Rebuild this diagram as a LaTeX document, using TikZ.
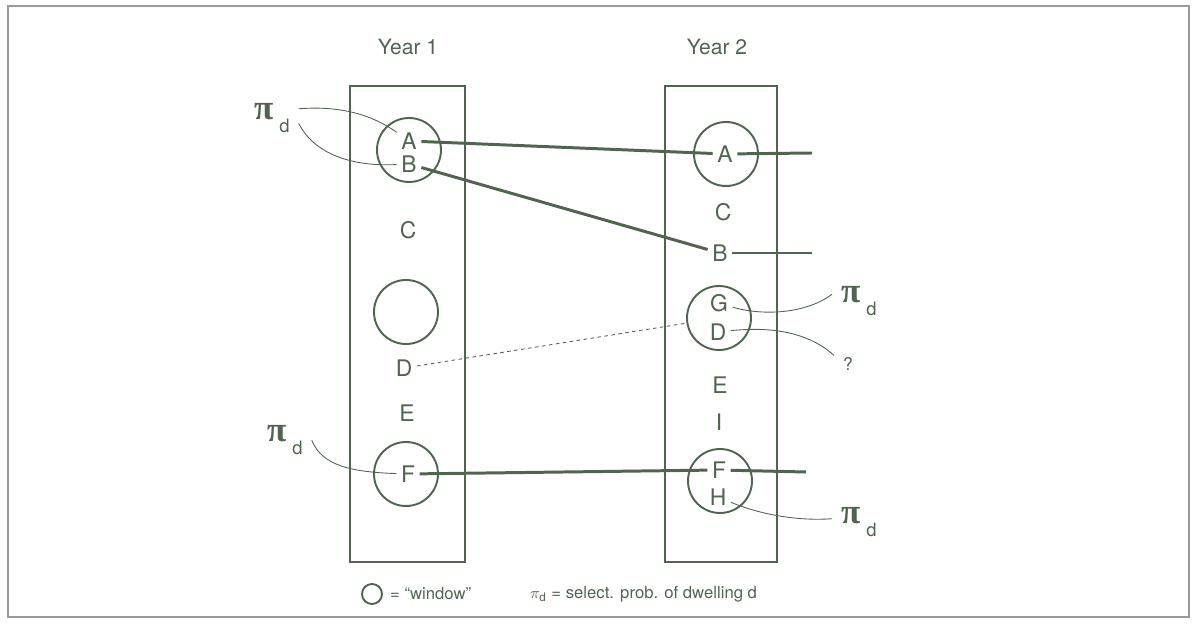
\documentclass[tikz,border=0pt]{standalone}
\usepackage{fontspec}
\setmainfont{TeX Gyre Heros}
\newfontfamily\greekfont{Liberation Serif}
\usetikzlibrary{positioning}
\definecolor{ink}{RGB}{80,100,80}
\definecolor{edge}{RGB}{150,156,150}
\newcommand{\pid}{{\greekfont\bfseries\fontsize{20}{20}\selectfont π}\hspace{3.4pt}\raisebox{-7pt}{\fontsize{10.5}{10.5}\selectfont d}}
\tikzset{%
  % boxes and windows
     yearbox/.style = {draw=ink, line width=1.1pt},
      window/.style = {circle, draw=ink, line width=1.1pt,
                       minimum size=1.28cm, inner sep=0pt},
  % texts
    dwelling/.style = {text=ink, inner sep=2.5pt, font=\fontsize{13}{13}\selectfont},
   yearlabel/.style = {text=ink, font=\fontsize{12}{12}\selectfont},
        prob/.style = {text=ink, inner ysep=1pt, inner xsep=5pt},
      legend/.style = {text=ink, inner sep=1pt, font=\fontsize{9.5}{9.5}\selectfont},
  % connectors
        link/.style = {draw=ink, line width=1.7pt},
      leader/.style = {draw=ink, line width=0.5pt},
        lost/.style = {draw=ink, line width=0.5pt, dash pattern=on 2pt off 2pt}
}
\begin{document}
\begin{tikzpicture}[x=0.02cm, y=-0.02cm]
  \useasboundingbox (0,0) rectangle (1197,624);
  \draw[edge, line width=1pt] (8,6) rectangle (1189,617);

  % the two years
  \node (year1) [yearlabel] at (408,47) {Year 1};
  \node (year2) [yearlabel] at (717,47) {Year 2};
  \draw[yearbox] (350,86) rectangle (465,562);
  \draw[yearbox] (665,86) rectangle (777,562);

  % Year 1
  \node (w1ab) [window] at (409,150) {};
  \node (a1)   [dwelling] at (409,141) {A};
  \node (b1)   [dwelling] at (409,164) {B};
  \node (c1)   [dwelling] at (408,230) {C};
  \node (w1)   [window] at (406,312) {};
  \node (d1)   [dwelling] at (404,368) {D};
  \node (e1)   [dwelling] at (407,413) {E};
  \node (w1f)  [window] at (406,474) {};
  \node (f1)   [dwelling] at (408,474) {F};

  % Year 2
  \node (w2a)  [window] at (726,154) {};
  \node (a2)   [dwelling] at (725,154) {A};
  \node (c2)   [dwelling] at (723,212) {C};
  \node (b2)   [dwelling] at (720,253) {B};
  \node (w2gd) [window] at (719,318) {};
  \node (g2)   [dwelling] at (719,303) {G};
  \node (d2)   [dwelling] at (718,332) {D};
  \node (e2)   [dwelling] at (720,385) {E};
  \node (i2)   [dwelling] at (719,422) {I};
  \node (w2fh) [window] at (720,481) {};
  \node (f2)   [dwelling] at (719,470) {F};
  \node (h2)   [dwelling] at (718,497) {H};

  \coordinate (a2end) at (812,153);
  \coordinate (b2end) at (812,253);
  \coordinate (f2end) at (806,472);

  % dwellings followed from year to year
  \draw[link] (a1) -- (a2);
  \draw[link] (a2) -- (a2end);
  \draw[link] (b1) -- (b2);
  \draw[link] (b2) -- (b2end);
  \draw[link] (f1) -- (f2);
  \draw[link] (f2) -- (f2end);
  \draw[lost] (d1) -- (w2gd);

  % selection probabilities
  \node (piA) [prob, anchor=base west] at (245,120) {\pid};
  \node (piF) [prob, anchor=base west] at (258,442) {\pid};
  \node (piG) [prob, anchor=base west] at (832,303) {\pid};
  \node (q)   [prob] at (848,364) {?};
  \node (piH) [prob, anchor=base west] at (832,524) {\pid};

  \draw[leader] ([yshift=-4pt]piA.north east) .. controls (335,106) and (368,112) .. (a1);
  \draw[leader] ([yshift=-3pt]piA.east) .. controls (312,150) and (345,167) .. (b1);
  \draw[leader] (piF.east) .. controls (322,466) and (352,472) .. (f1);
  \draw[leader] (g2) .. controls (762,316) and (806,314) .. ([yshift=4pt]piG.west);
  \draw[leader] (d2) .. controls (766,327) and (806,330) .. (q.north west);
  \draw[leader] (h2) .. controls (764,516) and (802,521) .. ([yshift=2pt]piH.west);

  % legend
  \node (key)  [circle, draw=ink, line width=1.1pt, minimum size=0.4cm, inner sep=0pt] at (372,594) {};
  \node (keyw) [legend, anchor=west] at (388,594) {= “window”};
  \node (keyp) [legend, anchor=west] at (528,594) {$\pi_{\mathrm d}$ = select. prob. of dwelling d};
\end{tikzpicture}
\end{document}
